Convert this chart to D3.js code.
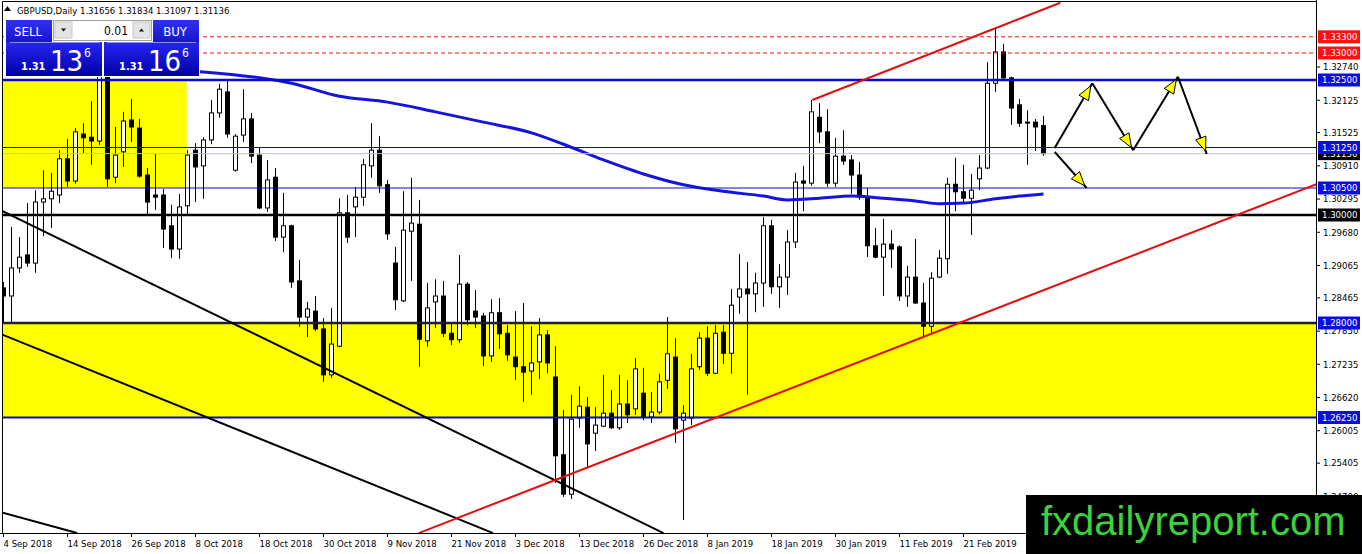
<!DOCTYPE html>
<html>
<head>
<meta charset="utf-8">
<script src="https://cdn.jsdelivr.net/npm/d3@7"></script>
<style>
  html, body { margin: 0; padding: 0; background: #fff; }
  svg { display: block; }
  text { font-family: 'DejaVu Sans Condensed', 'DejaVu Sans', sans-serif; }
</style>
</head>
<body>
<div id="chart"></div>
<script>
// GBPUSD daily candles, 4 Sep 2018 .. 7 Mar 2019 (bar index 0..130)
const open = [1.2865,1.2850,1.2902,1.2926,1.2911,1.3024,1.3030,1.3037,1.3104,1.3063,
  1.3150,1.3144,1.3137,1.3270,1.3070,1.3117,1.3176,1.3161,1.3074,1.3037,
  1.3037,1.2980,1.2937,1.3017,1.3120,1.3091,1.3139,1.3189,1.3228,1.3083,
  1.3148,1.3178,1.3111,1.3013,1.3070,1.2959,1.2980,1.2878,1.2811,1.2822,
  1.2789,1.2704,1.2757,1.3004,1.3015,1.3033,1.3091,1.3120,1.3056,1.2911,
  1.2841,1.2970,1.2983,1.2767,1.2839,1.2850,1.2781,1.2769,1.2872,1.2822,
  1.2813,1.2739,1.2819,1.2781,1.2737,1.2719,1.2711,1.2728,1.2778,1.2700,
  1.2556,1.2483,1.2624,1.2644,1.2596,1.2609,1.2633,1.2606,1.2650,1.2641,
  1.2670,1.2626,1.2635,1.2694,1.2737,1.2620,1.2624,1.2719,1.2772,1.2707,
  1.2783,1.2744,1.2848,1.2863,1.2854,1.2874,1.2980,1.2867,1.2885,1.2950,
  1.3063,1.3059,1.3181,1.3154,1.3059,1.3109,1.3102,1.3074,1.3033,1.2943,
  1.2922,1.2946,1.2941,1.2850,1.2885,1.2837,1.2794,1.2885,1.2919,1.3057,
  1.3043,1.3031,1.3067,1.3087,1.3244,1.3302,1.3254,1.3204,1.3172,1.3172,
  1.31656];
const high = [1.2876,1.2978,1.2959,1.3022,1.3046,1.3083,1.3078,1.3120,1.3141,1.3161,
  1.3170,1.3211,1.3298,1.3280,1.3163,1.3191,1.3215,1.3178,1.3087,1.3113,
  1.3048,1.3019,1.3039,1.3120,1.3133,1.3144,1.3213,1.3243,1.3252,1.3150,
  1.3233,1.3189,1.3126,1.3102,1.3087,1.3041,1.2982,1.2917,1.2839,1.2850,
  1.2809,1.2828,1.3031,1.3037,1.3052,1.3104,1.3170,1.3146,1.3065,1.2941,
  1.3044,1.3069,1.3028,1.2874,1.2881,1.2878,1.2798,1.2926,1.2876,1.2861,
  1.2819,1.2844,1.2846,1.2796,1.2822,1.2837,1.2794,1.2809,1.2787,1.2757,
  1.2639,1.2667,1.2683,1.2663,1.2644,1.2704,1.2676,1.2704,1.2694,1.2735,
  1.2717,1.2672,1.2706,1.2811,1.2772,1.2648,1.2743,1.2783,1.2794,1.2796,
  1.2796,1.2863,1.2928,1.2913,1.2893,1.2996,1.2991,1.2909,1.2972,1.3078,
  1.3091,1.3213,1.3207,1.3196,1.3143,1.3157,1.3111,1.3098,1.3050,1.2976,
  1.2993,1.2972,1.2944,1.2906,1.2956,1.2874,1.2894,1.2935,1.3069,1.3106,
  1.3093,1.3076,1.3111,1.3283,1.3344,1.3317,1.3256,1.3215,1.3194,1.3178,
  1.31834];
const low = [1.2802,1.2800,1.2893,1.2904,1.2893,1.2961,1.2976,1.3022,1.3052,1.3058,
  1.3115,1.3093,1.3130,1.3052,1.3059,1.3089,1.3135,1.3069,1.3000,1.3009,
  1.2939,1.2920,1.2919,1.3000,1.3024,1.3030,1.3131,1.3180,1.3143,1.3080,
  1.3135,1.3096,1.3011,1.3006,1.2952,1.2931,1.2865,1.2793,1.2774,1.2785,
  1.2691,1.2698,1.2755,1.2948,1.2959,1.3017,1.3069,1.3041,1.2954,1.2824,
  1.2839,1.2878,1.2719,1.2756,1.2791,1.2774,1.2759,1.2763,1.2796,1.2791,
  1.2720,1.2728,1.2752,1.2730,1.2694,1.2654,1.2667,1.2696,1.2707,1.2504,
  1.2478,1.2474,1.2606,1.2533,1.2563,1.2607,1.2604,1.2602,1.2615,1.2630,
  1.2620,1.2615,1.2631,1.2678,1.2578,1.2435,1.2611,1.2713,1.2702,1.2706,
  1.2724,1.2706,1.2817,1.2667,1.2820,1.2830,1.2854,1.2828,1.2852,1.2939,
  1.3007,1.3054,1.3133,1.3052,1.3052,1.3093,1.3039,1.3028,1.2922,1.2920,
  1.2850,1.2902,1.2841,1.2830,1.2835,1.2772,1.2778,1.2883,1.2891,1.3007,
  1.3024,1.2963,1.3046,1.3085,1.3228,1.3250,1.3167,1.3163,1.3093,1.3119,
  1.31097];
const close = [1.2850,1.2902,1.2922,1.2911,1.3024,1.3030,1.3044,1.3104,1.3063,1.3154,
  1.3143,1.3137,1.3272,1.3067,1.3111,1.3174,1.3163,1.3072,1.3024,1.3033,
  1.2974,1.2937,1.3015,1.3111,1.3089,1.3139,1.3189,1.3233,1.3150,1.3146,
  1.3178,1.3109,1.3013,1.3065,1.2959,1.2980,1.2876,1.2811,1.2826,1.2789,
  1.2704,1.2761,1.3004,1.2959,1.3033,1.3093,1.3120,1.3054,1.2965,1.2843,
  1.2972,1.2985,1.2770,1.2828,1.2850,1.2781,1.2769,1.2872,1.2806,1.2811,
  1.2739,1.2819,1.2780,1.2741,1.2719,1.2709,1.2726,1.2778,1.2726,1.2554,
  1.2483,1.2622,1.2646,1.2576,1.2611,1.2633,1.2606,1.2650,1.2630,1.2715,
  1.2626,1.2635,1.2691,1.2743,1.2604,1.2633,1.2715,1.2772,1.2707,1.2781,
  1.2744,1.2833,1.2863,1.2854,1.2874,1.2980,1.2867,1.2885,1.2950,1.3061,
  1.3059,1.3191,1.3154,1.3059,1.3109,1.3100,1.3074,1.3033,1.2943,1.2922,
  1.2946,1.2937,1.2850,1.2885,1.2837,1.2794,1.2883,1.2920,1.3057,1.3043,
  1.3031,1.3046,1.3087,1.3244,1.3302,1.3254,1.3198,1.3170,1.3171,1.3163,
  1.31136];

// moving average read at a few bars
const maBars   = [23, 25, 32, 36, 42, 48, 54, 60, 66, 70, 75, 80, 85, 90, 95, 98, 102, 106, 110, 114, 117, 120, 124, 127, 130];
const maValues = [1.3267,1.3265,1.3254,1.3244,1.3220,1.3209,1.3191,1.3172,1.3152,1.3131,1.3102,1.3076,1.3056,
  1.3044,1.3035,1.3028,1.3031,1.3035,1.3031,1.3026,1.3021,1.3022,1.3030,1.3035,1.3039];

// time axis labels
const dateBars   = [0, 8, 16, 24, 32, 40, 48, 56, 64, 72, 80, 88, 96, 104, 112, 120];
const dateLabels = ['4 Sep 2018','14 Sep 2018','26 Sep 2018','8 Oct 2018','18 Oct 2018','30 Oct 2018',
  '9 Nov 2018','21 Nov 2018','3 Dec 2018','13 Dec 2018','26 Dec 2018','8 Jan 2019','18 Jan 2019',
  '30 Jan 2019','11 Feb 2019','21 Feb 2019'];

// price axis
const priceTicks = [1.32740,1.32125,1.31525,1.30910,1.30295,1.29680,1.29065,1.28465,1.27850,1.27235,1.26620,1.26005,1.25405,1.24790];
const dashLevels  = [1.333, 1.330];
const blueLevels  = [1.325, 1.3125, 1.305, 1.2625];
const blackLevels = [1.300, 1.280];
const bidPrice = 1.31136;

// yellow zones [bar from, bar to], [price top, price bottom]
const zoneBars   = [[-0.5, 22.9], [-0.5, 170]];
const zonePrices = [[1.3250, 1.3050], [1.2800, 1.2625]];

// trend lines as two anchors [bar, price]
const blackLines = [
  [[-0.4, 1.3009], [82.5, 1.2411]],
  [[-0.4, 1.2780], [61.2, 1.2411]],
  [[-0.4, 1.2450], [9.2, 1.2411]]
];
const redLines = [
  [[51.9, 1.2411], [164.1, 1.3057]],
  [[101.1, 1.3213], [132.1, 1.3393]]
];

// projected path arrows [from, to]
const arrowLegs = [
  [[131.4, 1.3124], [136.1, 1.3244]],
  [[136.1, 1.3244], [141.2, 1.3120]],
  [[141.2, 1.3120], [146.8, 1.3256]],
  [[146.8, 1.3256], [150.4, 1.3113]],
  [[131.4, 1.3117], [135.4, 1.3050]]
];

const W = 1362, H = 554;
const plotRight = 1316, plotBottom = 533;

const svg = d3.select('#chart').append('svg')
  .attr('width', W).attr('height', H);

svg.append('rect').attr('width', W).attr('height', H).attr('fill', '#fff');

const x = d3.scaleLinear().domain([0, 130]).range([3.5, 1043.5]);
const y = d3.scaleLinear().domain([1.30, 1.33]).range([215, 53]);

const defs = svg.append('defs');
defs.append('clipPath').attr('id', 'plot')
  .append('rect').attr('x', 2.5).attr('y', 1.5).attr('width', plotRight - 2.5).attr('height', plotBottom - 1.5);

const g = svg.append('g').attr('clip-path', 'url(#plot)');

// zones
g.selectAll('.zone')
  .data(zoneBars.map((b, i) => ({b, p: zonePrices[i]})))
  .join('rect')
  .attr('x', d => x(d.b[0]))
  .attr('width', d => x(d.b[1]) - x(d.b[0]))
  .attr('y', d => y(d.p[0]))
  .attr('height', d => y(d.p[1]) - y(d.p[0]))
  .attr('fill', '#ffff00');

// candles
const bars = d3.range(open.length);
g.selectAll('.wick')
  .data(bars)
  .join('line')
  .attr('x1', i => x(i)).attr('x2', i => x(i))
  .attr('y1', i => y(high[i])).attr('y2', i => y(low[i]))
  .attr('stroke', '#000').attr('stroke-width', 1);

g.selectAll('.body')
  .data(bars)
  .join('rect')
  .attr('x', i => x(i) - 2)
  .attr('width', 4)
  .attr('y', i => y(Math.max(open[i], close[i])))
  .attr('height', i => Math.max(1, Math.abs(y(open[i]) - y(close[i]))))
  .attr('fill', i => close[i] >= open[i] ? '#fff' : '#000')
  .attr('stroke', '#000').attr('stroke-width', 1);

// moving average
const ma = d3.line()
  .x((d, i) => x(maBars[i]))
  .y(d => y(d))
  .curve(d3.curveMonotoneX);
g.append('path')
  .datum(maValues)
  .attr('d', ma)
  .attr('fill', 'none')
  .attr('stroke', '#1414dc')
  .attr('stroke-width', 3);

// horizontal levels
g.append('line')
  .attr('x1', 0).attr('x2', plotRight)
  .attr('y1', y(bidPrice)).attr('y2', y(bidPrice))
  .attr('stroke', '#c0c0c0').attr('stroke-width', 1);

g.selectAll('.dash')
  .data(dashLevels)
  .join('line')
  .attr('x1', 0).attr('x2', plotRight)
  .attr('y1', d => y(d)).attr('y2', d => y(d))
  .attr('stroke', '#ee1111').attr('stroke-width', 1)
  .attr('stroke-dasharray', '4,3');

const blueWidth = {1.325: 2.5, 1.3125: 1.2, 1.305: 1.2, 1.2625: 2};
g.selectAll('.blue')
  .data(blueLevels)
  .join('line')
  .attr('x1', 0).attr('x2', plotRight)
  .attr('y1', d => y(d)).attr('y2', d => y(d))
  .attr('stroke', '#0a0ac8').attr('stroke-width', d => blueWidth[d]);

g.selectAll('.black')
  .data(blackLevels)
  .join('line')
  .attr('x1', 0).attr('x2', plotRight)
  .attr('y1', d => y(d)).attr('y2', d => y(d))
  .attr('stroke', (d, i) => i === 0 ? '#000' : '#1e1e3c').attr('stroke-width', 2.5);

// trend lines
g.selectAll('.tl-black')
  .data(blackLines)
  .join('line')
  .attr('x1', d => x(d[0][0])).attr('y1', d => y(d[0][1]))
  .attr('x2', d => x(d[1][0])).attr('y2', d => y(d[1][1]))
  .attr('stroke', '#000').attr('stroke-width', 2);

g.selectAll('.tl-red')
  .data(redLines)
  .join('line')
  .attr('x1', d => x(d[0][0])).attr('y1', d => y(d[0][1]))
  .attr('x2', d => x(d[1][0])).attr('y2', d => y(d[1][1]))
  .attr('stroke', '#e01010').attr('stroke-width', 2);

// arrows
arrowLegs.forEach(([a, b]) => {
  const x1 = x(a[0]), y1 = y(a[1]), x2 = x(b[0]), y2 = y(b[1]);
  g.append('line')
    .attr('x1', x1).attr('y1', y1).attr('x2', x2).attr('y2', y2)
    .attr('stroke', '#000').attr('stroke-width', 2);
  const ang = Math.atan2(y2 - y1, x2 - x1);
  const tx = x2 - 3 * Math.cos(ang), ty = y2 - 3 * Math.sin(ang);
  const bx = tx - 14 * Math.cos(ang), by = ty - 14 * Math.sin(ang);
  const nx = -Math.sin(ang) * 5.5, ny = Math.cos(ang) * 5.5;
  g.append('path')
    .attr('d', `M${tx},${ty}L${bx + nx},${by + ny}L${bx - nx},${by - ny}Z`)
    .attr('fill', '#ffff00').attr('stroke', '#000').attr('stroke-width', 1);
});

// frame
svg.append('line').attr('x1', 2.5).attr('x2', plotRight).attr('y1', 1.5).attr('y2', 1.5).attr('stroke', '#000');
svg.append('line').attr('x1', 2.5).attr('x2', 2.5).attr('y1', 1.5).attr('y2', plotBottom).attr('stroke', '#000');
svg.append('line').attr('x1', plotRight + 0.5).attr('x2', plotRight + 0.5).attr('y1', 0).attr('y2', plotBottom).attr('stroke', '#000');
svg.append('line').attr('x1', 0).attr('x2', plotRight + 0.5).attr('y1', plotBottom + 0.5).attr('y2', plotBottom + 0.5).attr('stroke', '#000');

// price axis
const axisG = svg.append('g');
axisG.selectAll('.pt')
  .data(priceTicks)
  .join('g')
  .attr('transform', d => `translate(${plotRight},${y(d)})`)
  .call(s => s.append('line').attr('x1', 0).attr('x2', 4).attr('stroke', '#000'))
  .call(s => s.append('text').attr('x', 7).attr('dy', '0.35em')
    .attr('font-size', 9.5).attr('fill', '#000').text(d => d.toFixed(5)));

function levelLabel(p, fill) {
  const lg = axisG.append('g').attr('transform', `translate(${plotRight + 2},${y(p)})`);
  lg.append('rect').attr('x', 0).attr('y', -6.5).attr('width', 42).attr('height', 13).attr('fill', fill);
  lg.append('text').attr('x', 4).attr('dy', '0.35em')
    .attr('font-size', 9.5).attr('fill', '#fff').text(p.toFixed(5));
}
levelLabel(bidPrice, '#000');
dashLevels.forEach(p => levelLabel(p, '#ff1010'));
blueLevels.forEach(p => levelLabel(p, '#0c0ce6'));
blackLevels.forEach((p, i) => levelLabel(p, i === 0 ? '#000' : '#0c0ce6'));

// time axis
svg.selectAll('.dt')
  .data(dateBars)
  .join('g')
  .attr('transform', d => `translate(${x(d)},${plotBottom})`)
  .call(s => s.append('line').attr('y1', 0).attr('y2', 4).attr('stroke', '#000'))
  .call(s => s.append('text').attr('x', 0).attr('y', 13.5)
    .attr('font-size', 9.5).attr('fill', '#000').text((d, i) => dateLabels[i]));

// title
const last = open.length - 1;
svg.append('path').attr('d', 'M4,11L7.5,6L11,11Z').attr('fill', '#000');
svg.append('text').attr('x', 17).attr('y', 13.5).attr('font-size', 9.5).attr('fill', '#000')
  .text(`GBPUSD,Daily ${open[last].toFixed(5)} ${high[last].toFixed(5)} ${low[last].toFixed(5)} ${close[last].toFixed(5)}`);

// one-click trading panel
const grad = defs.append('linearGradient').attr('id', 'pgrad').attr('x1', 0).attr('y1', 0).attr('x2', 0).attr('y2', 1);
grad.append('stop').attr('offset', '0%').attr('stop-color', '#2626f0');
grad.append('stop').attr('offset', '100%').attr('stop-color', '#0000a8');
const hgrad = defs.append('linearGradient').attr('id', 'hgrad').attr('x1', 0).attr('y1', 0).attr('x2', 0).attr('y2', 1);
hgrad.append('stop').attr('offset', '0%').attr('stop-color', '#3030f2');
hgrad.append('stop').attr('offset', '100%').attr('stop-color', '#1616cc');

const panel = svg.append('g');
panel.append('rect').attr('x', 5).attr('y', 19).attr('width', 195).attr('height', 58).attr('fill', '#fff');
panel.append('rect').attr('x', 6).attr('y', 20).attr('width', 46).attr('height', 22).attr('fill', 'url(#hgrad)');
panel.append('rect').attr('x', 153).attr('y', 20).attr('width', 46).attr('height', 22).attr('fill', 'url(#hgrad)');
panel.append('rect').attr('x', 6).attr('y', 42).attr('width', 96).attr('height', 34).attr('fill', 'url(#pgrad)');
panel.append('rect').attr('x', 104).attr('y', 42).attr('width', 95).attr('height', 34).attr('fill', 'url(#pgrad)');
panel.append('line').attr('x1', 10).attr('x2', 100).attr('y1', 42.5).attr('y2', 42.5).attr('stroke', '#8c8cff');
panel.append('line').attr('x1', 107).attr('x2', 196).attr('y1', 42.5).attr('y2', 42.5).attr('stroke', '#8c8cff');
panel.append('rect').attr('x', 53.5).attr('y', 20.5).attr('width', 98).attr('height', 20).attr('fill', '#fff').attr('stroke', '#a0a0a0');
panel.append('rect').attr('x', 55).attr('y', 22).attr('width', 17).attr('height', 16).attr('fill', '#e4e4e4').attr('stroke', '#c8c8c8');
panel.append('rect').attr('x', 133).attr('y', 22).attr('width', 17).attr('height', 16).attr('fill', '#e4e4e4').attr('stroke', '#c8c8c8');
panel.append('path').attr('d', 'M61,28.5L66,28.5L63.5,31.5Z').attr('fill', '#000');
panel.append('path').attr('d', 'M139,31.5L144,31.5L141.5,28.5Z').attr('fill', '#000');
panel.append('text').attr('x', 128).attr('y', 35).attr('text-anchor', 'end').attr('font-size', 12).attr('fill', '#000').text('0.01');
panel.append('text').attr('x', 28).attr('y', 36).attr('text-anchor', 'middle').attr('font-size', 13).attr('fill', '#fff').text('SELL');
panel.append('text').attr('x', 175).attr('y', 36).attr('text-anchor', 'middle').attr('font-size', 13).attr('fill', '#fff').text('BUY');
[[21, 'SELL', '13'], [119, 'BUY', '16']].forEach(([px, , big]) => {
  panel.append('text').attr('x', px).attr('y', 70).attr('font-size', 11).attr('font-weight', 'bold').attr('fill', '#fff').text('1.31');
  panel.append('text').attr('x', px + 29).attr('y', 71).attr('font-size', 29).attr('fill', '#fff').text(big);
  panel.append('text').attr('x', px + 63).attr('y', 57).attr('font-size', 12).attr('fill', '#fff').text('6');
});

// watermark
svg.append('rect').attr('x', 1026).attr('y', 495).attr('width', 336).attr('height', 59).attr('fill', '#000');
svg.append('text').attr('x', 1041).attr('y', 535)
  .style('font-family', "'Liberation Sans', Arial, sans-serif")
  .attr('font-size', 40).attr('fill', '#3cd23c').text('fxdailyreport.com');
</script>
</body>
</html>
